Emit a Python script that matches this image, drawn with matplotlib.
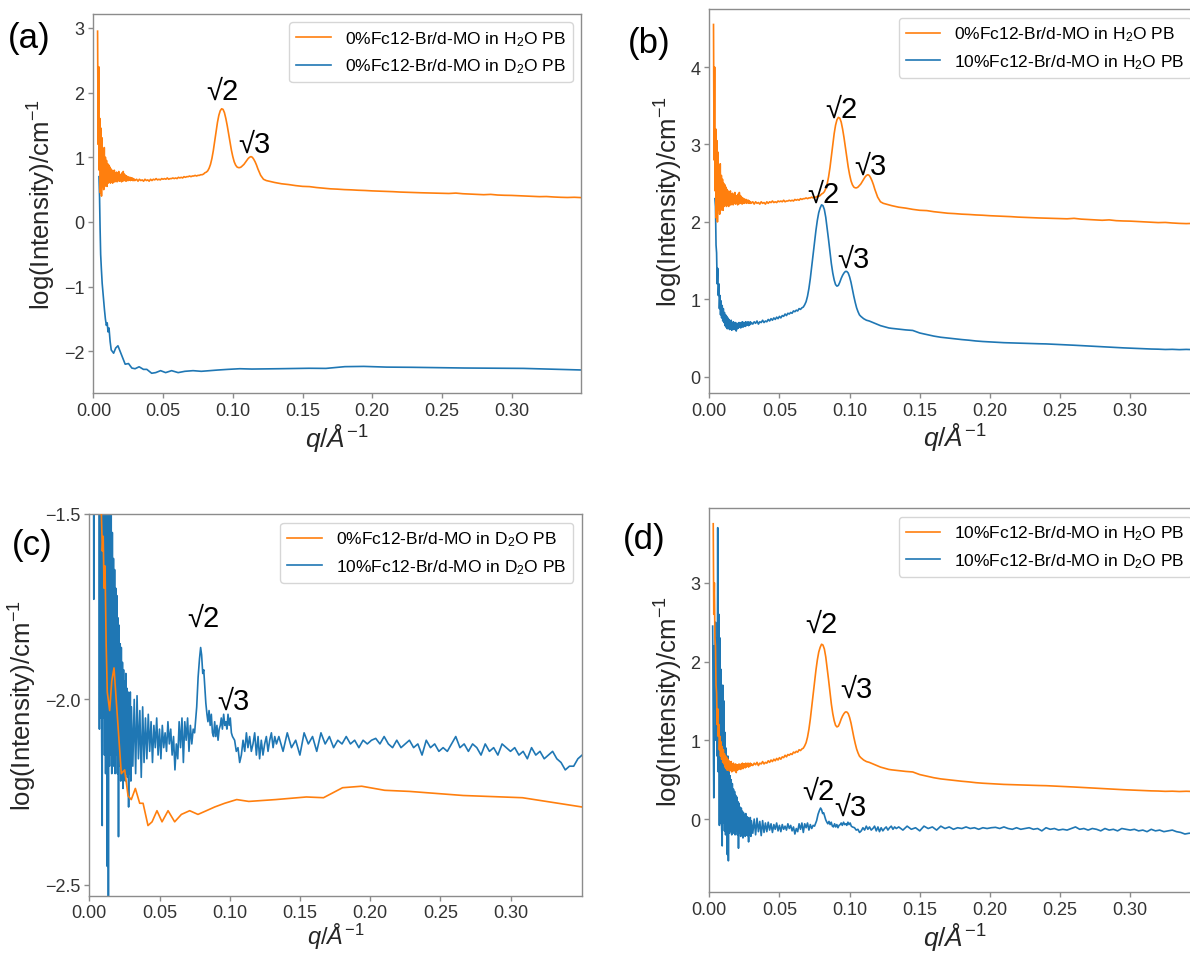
import numpy as np
import matplotlib
matplotlib.use("Agg")
import matplotlib.pyplot as plt

# ------------------------------------------------------------------
# SANS curves, log10(I / cm^-1) versus q (1/Angstrom)
# ------------------------------------------------------------------

# 0 % Fc12-Br / d-MO in H2O PB
h2o0_low_q0, h2o0_low_dq = 0.0030, 0.0004
h2o0_low = [2.95, 1.2, 2.4, 0.8, 1.6, 0.45, 1.45, 0.40, 1.3, 0.55, 1.1, 0.5, 1.15, 0.55,
            1.0, 0.6, 0.95, 0.55, 0.9, 0.6, 0.88, 0.62, 0.85, 0.6, 0.82, 0.62, 0.8, 0.6,
            0.78, 0.62, 0.8, 0.62, 0.76, 0.63, 0.77, 0.62, 0.75, 0.64, 0.78, 0.63, 0.74,
            0.64, 0.73, 0.62, 0.76, 0.63, 0.78, 0.64, 0.74, 0.64, 0.72, 0.63, 0.71, 0.64,
            0.70, 0.64, 0.69, 0.65, 0.69, 0.64, 0.68, 0.65, 0.68, 0.64, 0.67, 0.64, 0.66, 0.64]
h2o0_mid_q0, h2o0_mid_dq = 0.031, 0.001
h2o0_mid = [0.66, 0.63, 0.66, 0.64, 0.65, 0.63, 0.66, 0.64, 0.65, 0.63, 0.66, 0.64, 0.66,
            0.65, 0.67, 0.65, 0.66, 0.65, 0.67, 0.66, 0.67, 0.66, 0.68, 0.66, 0.67, 0.67,
            0.68, 0.67, 0.68, 0.67, 0.69, 0.68, 0.69, 0.68, 0.70, 0.69, 0.70, 0.70, 0.71,
            0.70, 0.71, 0.71, 0.72, 0.71, 0.72, 0.72, 0.73, 0.73, 0.74]
h2o0_peak_q = [0.080, 0.081, 0.082, 0.083, 0.084, 0.085, 0.086, 0.087, 0.088, 0.089, 0.090,
               0.091, 0.092, 0.093, 0.094, 0.095, 0.096, 0.097, 0.098, 0.099, 0.100, 0.101,
               0.102, 0.103, 0.104, 0.105, 0.106, 0.107, 0.108, 0.109, 0.110, 0.111, 0.112,
               0.113, 0.114, 0.115, 0.116, 0.117, 0.118, 0.119, 0.120, 0.121, 0.122, 0.123,
               0.124, 0.126, 0.128, 0.130]
h2o0_peak = [0.76, 0.77, 0.79, 0.83, 0.89, 0.98, 1.10, 1.25, 1.40, 1.54, 1.65, 1.72, 1.75,
             1.74, 1.69, 1.60, 1.49, 1.36, 1.23, 1.11, 1.01, 0.93, 0.88, 0.85, 0.84, 0.84,
             0.85, 0.87, 0.89, 0.92, 0.95, 0.98, 1.00, 1.01, 1.00, 0.97, 0.93, 0.88, 0.82,
             0.77, 0.72, 0.69, 0.66, 0.65, 0.64, 0.63, 0.62, 0.61]
h2o0_tail_q0, h2o0_tail_dq = 0.135, 0.005
h2o0_tail = [0.59, 0.578, 0.562, 0.55, 0.546, 0.532, 0.522, 0.512, 0.507, 0.50, 0.496, 0.49,
             0.486, 0.48, 0.476, 0.471, 0.468, 0.462, 0.458, 0.455, 0.451, 0.448, 0.445,
             0.443, 0.44, 0.446, 0.436, 0.431, 0.427, 0.421, 0.426, 0.416, 0.412, 0.41,
             0.405, 0.401, 0.396, 0.391, 0.393, 0.386, 0.381, 0.378, 0.381, 0.376]

# 0 % Fc12-Br / d-MO in D2O PB
d2o0_q = [0.0040, 0.0044, 0.0048, 0.0052, 0.0057, 0.0063, 0.0071, 0.0079, 0.0086, 0.0093,
          0.0099, 0.0105, 0.0112, 0.0120, 0.0128, 0.0145, 0.0160, 0.0176, 0.0228, 0.0252,
          0.0276, 0.0299, 0.0328, 0.0359, 0.0383, 0.0418, 0.0447, 0.0482, 0.0518, 0.0561,
          0.0608, 0.0656, 0.0715, 0.0774, 0.0834, 0.0893, 0.0964, 0.1050, 0.1136, 0.1328,
          0.1546, 0.1668, 0.1804, 0.1940, 0.2104, 0.2281, 0.2663, 0.3085, 0.3510]
d2o0 = [0.70, 0.40, -0.10, -0.50, -0.72, -0.95, -1.15, -1.35, -1.50, -1.60, -1.56, -1.70,
        -1.64, -1.85, -1.98, -2.03, -1.95, -1.915, -2.20, -2.19, -2.26, -2.27, -2.24, -2.28,
        -2.28, -2.34, -2.33, -2.30, -2.33, -2.30, -2.33, -2.31, -2.30, -2.31, -2.30, -2.29,
        -2.28, -2.27, -2.275, -2.27, -2.263, -2.265, -2.238, -2.234, -2.245, -2.248, -2.259,
        -2.265, -2.29]

# 10 % Fc12-Br / d-MO in H2O PB
h2o10_low_q0, h2o10_low_dq = 0.0028, 0.0004
h2o10_low = [3.75, 2.6, 3.0, 2.3, 2.2, 1.7, 1.6, 1.2, 1.4, 1.05, 1.2, 0.88, 1.05, 0.80, 0.98,
             0.76, 0.92, 0.72, 0.88, 0.70, 0.83, 0.66, 0.80, 0.64, 0.78, 0.62, 0.76, 0.63,
             0.74, 0.61, 0.72, 0.62, 0.73, 0.60, 0.70, 0.62, 0.71, 0.61, 0.69, 0.63, 0.70,
             0.59, 0.68, 0.62, 0.69, 0.63, 0.70, 0.64, 0.69, 0.63, 0.70, 0.65, 0.71, 0.64,
             0.70, 0.66, 0.70, 0.65, 0.71, 0.66, 0.70, 0.67, 0.71, 0.66, 0.70, 0.67, 0.71, 0.68, 0.70]
h2o10_mid_q0, h2o10_mid_dq = 0.031, 0.001
h2o10_mid = [0.68, 0.71, 0.69, 0.72, 0.68, 0.71, 0.70, 0.73, 0.70, 0.72, 0.71, 0.74, 0.72,
             0.75, 0.73, 0.76, 0.74, 0.77, 0.75, 0.78, 0.76, 0.79, 0.78, 0.81, 0.79, 0.82,
             0.81, 0.83, 0.82, 0.85, 0.84, 0.86, 0.85, 0.88, 0.87, 0.89, 0.90]
h2o10_peak_q = [0.068, 0.069, 0.070, 0.071, 0.072, 0.073, 0.074, 0.075, 0.076, 0.077, 0.078,
                0.079, 0.080, 0.081, 0.082, 0.083, 0.084, 0.085, 0.086, 0.087, 0.088, 0.089,
                0.090, 0.091, 0.092, 0.093, 0.094, 0.095, 0.096, 0.097, 0.098, 0.099, 0.100,
                0.101, 0.102, 0.103, 0.104, 0.105, 0.106, 0.107, 0.108, 0.110, 0.112, 0.114,
                0.116, 0.118, 0.120, 0.122, 0.124, 0.126, 0.128, 0.130]
h2o10_peak = [0.93, 0.97, 1.04, 1.14, 1.27, 1.42, 1.58, 1.74, 1.89, 2.02, 2.12, 2.18, 2.22,
              2.21, 2.16, 2.06, 1.92, 1.77, 1.61, 1.46, 1.34, 1.25, 1.19, 1.17, 1.18, 1.22,
              1.27, 1.31, 1.34, 1.36, 1.36, 1.34, 1.29, 1.22, 1.13, 1.04, 0.96, 0.89, 0.84,
              0.80, 0.78, 0.75, 0.73, 0.72, 0.705, 0.69, 0.675, 0.66, 0.65, 0.64, 0.63, 0.625]
h2o10_tail_q0, h2o10_tail_dq = 0.135, 0.005
h2o10_tail = [0.615, 0.605, 0.598, 0.565, 0.545, 0.525, 0.51, 0.50, 0.49, 0.48, 0.472, 0.462,
              0.455, 0.45, 0.446, 0.44, 0.437, 0.435, 0.431, 0.428, 0.426, 0.424, 0.42, 0.416,
              0.412, 0.407, 0.402, 0.397, 0.392, 0.387, 0.383, 0.378, 0.373, 0.369, 0.366,
              0.362, 0.358, 0.356, 0.352, 0.354, 0.35, 0.353, 0.35, 0.348]

# 10 % Fc12-Br / d-MO in D2O PB
d2o10_low_q0, d2o10_low_dq = 0.0024, 0.0004
d2o10_low = [0.45, -0.80, -1.73, 0.20, -0.60, 0.50, -1.00, 0.30, -1.20, 1.70, -1.40, 0.60,
             -2.08, 0.30, -2.05, -0.10, -2.10, -2.34, -0.30, -2.05, -0.50, -2.15, -0.90, -2.20,
             -1.10, -2.10, -2.45, -1.20, -2.53, -1.30, -2.18, -1.45, -2.15, -1.50, -2.20, -1.55,
             -2.12, -1.62, -2.18, -1.65, -2.20, -1.70, -2.15, -1.72, -2.20, -1.78, -2.37, -1.80,
             -2.18, -1.85, -2.22, -1.86, -2.20, -1.90, -2.24, -1.92, -2.18, -1.95, -2.22, -1.93,
             -2.20, -1.97, -2.21, -1.98, -2.29, -2.00, -2.20, -1.98, -2.22, -2.02]
d2o10_mid_q0, d2o10_mid_dq = 0.031, 0.001
d2o10_mid = [-2.18, -2.00, -2.20, -1.99, -2.16, -2.03, -2.21, -2.02, -2.17, -2.05, -2.16, -2.04,
             -2.14, -2.06, -2.17, -2.07, -2.13, -2.05, -2.15, -2.08, -2.16, -2.07, -2.13, -2.09,
             -2.14, -2.06, -2.12, -2.08, -2.15, -2.10, -2.19, -2.12, -2.16, -2.06, -2.13, -2.05,
             -2.17, -2.06, -2.11, -2.05, -2.14, -2.07, -2.12, -2.08, -2.09]
d2o10_peak_q = [0.0765, 0.0775, 0.0785, 0.0793, 0.0800, 0.0808, 0.0815, 0.0822, 0.0830, 0.0838,
                0.0845, 0.0853, 0.0861, 0.0869, 0.0877, 0.0885, 0.0893, 0.0901, 0.0909, 0.0917,
                0.0925, 0.0933, 0.0940, 0.0948, 0.0957, 0.0965, 0.0973, 0.0980, 0.0988, 0.0996,
                0.1004, 0.1012, 0.1020, 0.1035, 0.1047, 0.1059, 0.1071, 0.1083, 0.1095, 0.1107,
                0.1119, 0.1130, 0.1142, 0.1154, 0.1166, 0.1178, 0.1190, 0.1202, 0.1213, 0.1225,
                0.1237, 0.1249, 0.1261, 0.1273, 0.1285, 0.1297, 0.1309, 0.1321, 0.1333]
d2o10_peak = [-2.02, -1.94, -1.89, -1.86, -1.88, -1.93, -1.92, -1.96, -2.01, -2.04, -2.06, -2.03,
              -2.07, -2.04, -2.09, -2.10, -2.06, -2.10, -2.07, -2.11, -2.08, -2.07, -2.05, -2.08,
              -2.04, -2.07, -2.06, -2.08, -2.04, -2.07, -2.05, -2.09, -2.10, -2.11, -2.14, -2.13,
              -2.17, -2.15, -2.11, -2.14, -2.09, -2.13, -2.10, -2.14, -2.12, -2.09, -2.15, -2.10,
              -2.16, -2.11, -2.15, -2.12, -2.10, -2.14, -2.11, -2.09, -2.13, -2.10, -2.12]
d2o10_tail_q0, d2o10_tail_dq = 0.135, 0.003
d2o10_tail = [-2.10, -2.14, -2.09, -2.13, -2.11, -2.15, -2.09, -2.12, -2.10, -2.14, -2.09, -2.12,
              -2.10, -2.13, -2.11, -2.12, -2.10, -2.12, -2.11, -2.13, -2.11, -2.12, -2.11, -2.105,
              -2.12, -2.10, -2.12, -2.13, -2.11, -2.13, -2.12, -2.11, -2.13, -2.12, -2.15, -2.11,
              -2.13, -2.12, -2.14, -2.13, -2.14, -2.12, -2.10, -2.13, -2.12, -2.14, -2.12, -2.13,
              -2.15, -2.12, -2.14, -2.13, -2.15, -2.12, -2.13, -2.14, -2.13, -2.15, -2.14, -2.16,
              -2.13, -2.15, -2.14, -2.16, -2.15, -2.14, -2.16, -2.17, -2.19, -2.18, -2.18, -2.16, -2.15]

# vertical shifts used to stack curves in panels (b) and (d)
SHIFT_B_H2O0 = 1.6
SHIFT_D_D2O10 = 2.0
Q_MIN_B_H2O10 = 0.0040

LABELS = {
    "h2o0": "0%Fc12-Br/d-MO in H$_2$O PB",
    "d2o0": "0%Fc12-Br/d-MO in D$_2$O PB",
    "h2o10": "10%Fc12-Br/d-MO in H$_2$O PB",
    "d2o10": "10%Fc12-Br/d-MO in D$_2$O PB",
}


def uniform(q0, dq, vals):
    return q0 + dq * np.arange(len(vals)), np.asarray(vals, dtype=float)


def join(*parts):
    qs = np.concatenate([p[0] for p in parts])
    vs = np.concatenate([p[1] for p in parts])
    return qs, vs


H2O0 = join(uniform(h2o0_low_q0, h2o0_low_dq, h2o0_low),
            uniform(h2o0_mid_q0, h2o0_mid_dq, h2o0_mid),
            (np.asarray(h2o0_peak_q), np.asarray(h2o0_peak)),
            uniform(h2o0_tail_q0, h2o0_tail_dq, h2o0_tail))
D2O0 = (np.asarray(d2o0_q), np.asarray(d2o0))
H2O10 = join(uniform(h2o10_low_q0, h2o10_low_dq, h2o10_low),
             uniform(h2o10_mid_q0, h2o10_mid_dq, h2o10_mid),
             (np.asarray(h2o10_peak_q), np.asarray(h2o10_peak)),
             uniform(h2o10_tail_q0, h2o10_tail_dq, h2o10_tail))
D2O10 = join(uniform(d2o10_low_q0, d2o10_low_dq, d2o10_low),
             uniform(d2o10_mid_q0, d2o10_mid_dq, d2o10_mid),
             (np.asarray(d2o10_peak_q), np.asarray(d2o10_peak)),
             uniform(d2o10_tail_q0, d2o10_tail_dq, d2o10_tail))

# ------------------------------------------------------------------
plt.rcParams["font.family"] = ["Liberation Sans", "DejaVu Sans"]
plt.rcParams["mathtext.fontset"] = "custom"
plt.rcParams["mathtext.rm"] = "Liberation Sans"
plt.rcParams["mathtext.it"] = "Liberation Sans:italic"
plt.rcParams["mathtext.bf"] = "Liberation Sans:bold"

ORANGE = "#ff7f0e"
BLUE = "#1f77b4"
SPINE = "#8c8c8c"
TICKTXT = "#333333"

W, H = 1190, 954
fig = plt.figure(figsize=(W / 100, H / 100), dpi=100)


def make_axes(left_px, top_px, bottom_px, xmax, px_per_q):
    width_px = xmax * px_per_q
    return fig.add_axes([left_px / W, 1 - bottom_px / H, width_px / W,
                         (bottom_px - top_px) / H])


axA = make_axes(93.4, 14.7, 394.3, 0.35, 1394)
axB = make_axes(709.3, 10.0, 394.0, 0.35, 1403)
axC = make_axes(89.3, 515.0, 897.0, 0.3507, 1404)
axD = make_axes(709.3, 509.0, 893.3, 0.35, 1403)

LW = 1.2


def draw(ax, q, v, color, label, z):
    ax.plot(q, v, color=color, lw=LW, label=label, zorder=z)


# (a)
draw(axA, H2O0[0], H2O0[1], ORANGE, LABELS["h2o0"], 3)
draw(axA, D2O0[0], D2O0[1], BLUE, LABELS["d2o0"], 2)
axA.set_xlim(0, 0.35)
axA.set_ylim(-2.65, 3.22)
axA.set_yticks([-2, -1, 0, 1, 2, 3])

# (b)
draw(axB, H2O0[0], H2O0[1] + SHIFT_B_H2O0, ORANGE, LABELS["h2o0"], 3)
mb = H2O10[0] >= Q_MIN_B_H2O10
draw(axB, H2O10[0][mb], H2O10[1][mb], BLUE, LABELS["h2o10"], 2)
axB.set_xlim(0, 0.35)
axB.set_ylim(-0.21, 4.75)
axB.set_yticks([0, 1, 2, 3, 4])

# (c)
draw(axC, D2O0[0], D2O0[1], ORANGE, LABELS["d2o0"], 3)
draw(axC, D2O10[0], D2O10[1], BLUE, LABELS["d2o10"], 2)
axC.set_xlim(0, 0.3507)
axC.set_ylim(-2.53, -1.5)
axC.set_yticks([-2.5, -2.0, -1.5])

# (d)
draw(axD, H2O10[0], H2O10[1], ORANGE, LABELS["h2o10"], 3)
draw(axD, D2O10[0], D2O10[1] + SHIFT_D_D2O10, BLUE, LABELS["d2o10"], 2)
axD.set_xlim(0, 0.35)
axD.set_ylim(-0.93, 3.95)
axD.set_yticks([0, 1, 2, 3])

for ax in (axA, axB, axC, axD):
    ax.set_xticks([0.0, 0.05, 0.10, 0.15, 0.20, 0.25, 0.30])
    ax.xaxis.set_major_formatter(matplotlib.ticker.FormatStrFormatter("%.2f"))
    for s in ax.spines.values():
        s.set_color(SPINE)
        s.set_linewidth(1.0)
    ax.tick_params(axis="both", which="major", length=3.5, width=1.0, color=SPINE,
                   labelsize=13, labelcolor=TICKTXT, pad=3)
    ax.set_ylabel(r"log(Intensity)/cm$^{-1}$", fontsize=18.5, color="#262626", labelpad=4)
    ax.legend(loc="upper right", fontsize=12.5, handlelength=2.0)

axC.tick_params(axis="x", pad=2)

XLABEL = r"$\mathit{q/Å}^{-1}$"
axA.set_xlabel(XLABEL, fontsize=19, color="#262626", labelpad=1)
axB.set_xlabel(XLABEL, fontsize=19, color="#262626", labelpad=1)
axD.set_xlabel(XLABEL, fontsize=19, color="#262626", labelpad=1)
axC.set_xlabel(XLABEL, fontsize=17, color="#262626", labelpad=0)

axC.yaxis.set_major_formatter(
    matplotlib.ticker.FuncFormatter(lambda v, p: f"{v:.1f}".replace("-", "\u2212")))

# peak index labels
ANN = 21
peak_marks = [
    (axA, 0.0922, 2.03, "\u221a2"), (axA, 0.1156, 1.21, "\u221a3"),
    (axB, 0.0944, 3.46, "\u221a2"), (axB, 0.1145, 2.73, "\u221a3"),
    (axB, 0.0813, 2.36, "\u221a2"), (axB, 0.1026, 1.52, "\u221a3"),
    (axC, 0.0810, -1.78, "\u221a2"), (axC, 0.1023, -2.004, "\u221a3"),
    (axD, 0.0801, 2.48, "\u221a2"), (axD, 0.1050, 1.65, "\u221a3"),
    (axD, 0.0777, 0.36, "\u221a2"), (axD, 0.1003, 0.15, "\u221a3"),
]
for ax, qx, vy, txt in peak_marks:
    ax.text(qx, vy, txt, fontsize=ANN, ha="center", va="center", color="black", zorder=5)

# panel letters
for xp, yp, t in [(28.7, 38.3, "(a)"), (649, 43, "(b)"), (32.5, 545, "(c)"), (644, 540, "(d)")]:
    fig.text(xp / W, 1 - yp / H, t, fontsize=25, ha="center", va="center", color="black")

fig.savefig("out.png", dpi=100)
